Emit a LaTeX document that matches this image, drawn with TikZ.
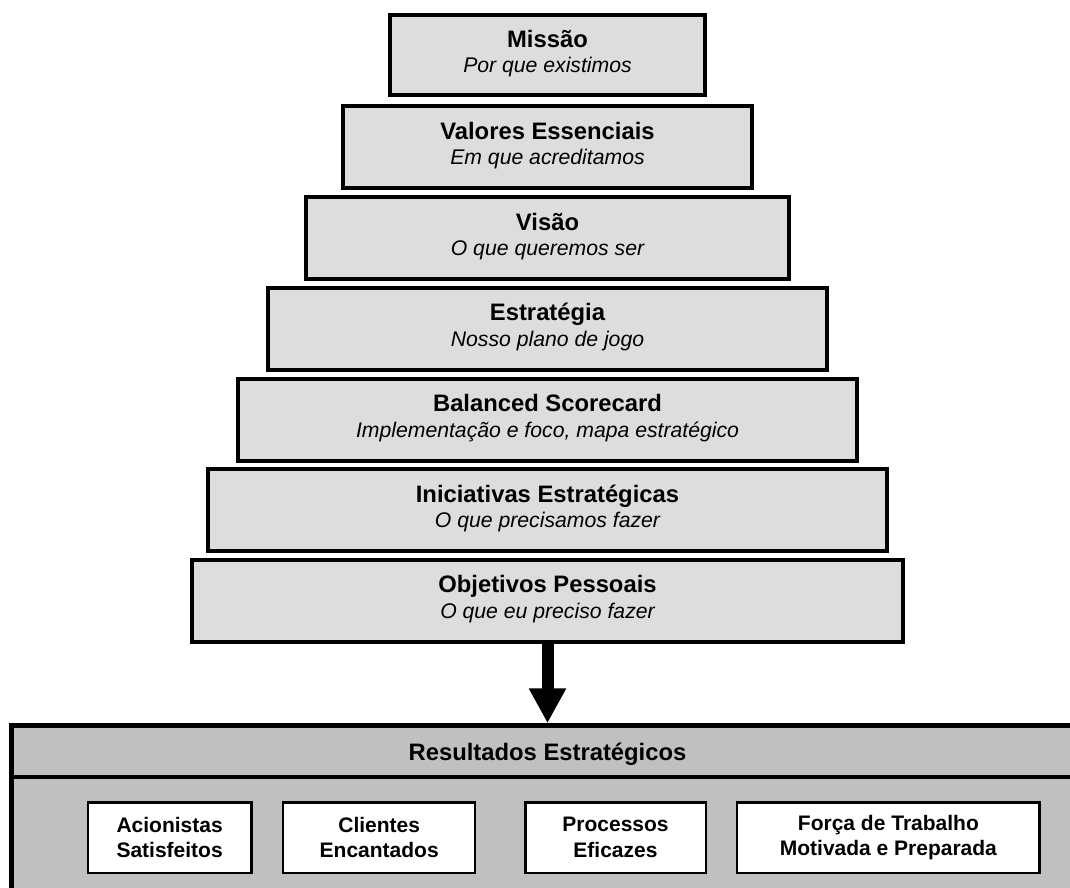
\documentclass[tikz,border=0pt]{standalone}
\usepackage{fontspec}
\setmainfont{Liberation Sans}
\usetikzlibrary{arrows.meta}
\definecolor{tierfill}{HTML}{DDDDDD}
\definecolor{panelfill}{HTML}{C0C0C0}
\begin{document}
\begin{tikzpicture}[x=1pt,y=-1pt,
  tier/.style={draw=black, line width=4pt, fill=tierfill, inner sep=0pt, minimum height=82pt},
  tiertitle/.style={anchor=base, inner sep=0pt, font=\fontsize{23.8}{28}\selectfont\bfseries},
  tiersub/.style={anchor=base, inner sep=0pt, font=\fontsize{21.2}{26}\selectfont\itshape},
  panel/.style={draw=black, line width=4.5pt, fill=panelfill, inner sep=0pt},
  paneltitle/.style={anchor=base, inner sep=0pt, font=\fontsize{23.8}{28}\selectfont\bfseries},
  outcome/.style={draw=black, line width=2.5pt, fill=white, inner sep=0pt,
    minimum height=70.5pt, align=center, font=\fontsize{21}{25.7}\selectfont\bfseries},
  divider/.style={draw=black, line width=4pt},
  bigarrow/.style={draw=black, line width=12pt, -{Triangle[length=35pt,width=35pt]}},
]
\useasboundingbox (0,0) rectangle (1070,888);
\clip (0,0) rectangle (1070,888);

% pyramid of tiers
\node[tier, minimum width=315.4pt, minimum height=80.2pt] (mis) at (547.5,55.4) {};
\node[tiertitle] (misT) at ([yshift=8pt]mis.center) {Missão};
\node[tiersub] (misS) at ([yshift=-17.5pt]mis.center) {Por que existimos};

\node[tier, minimum width=408.3pt, minimum height=82.5pt] (val) at (547.5,147.2) {};
\node[tiertitle] (valT) at ([yshift=8pt]val.center) {Valores Essenciais};
\node[tiersub] (valS) at ([yshift=-17.5pt]val.center) {Em que acreditamos};

\node[tier, minimum width=483.4pt] (vis) at (547.5,238) {};
\node[tiertitle] (visT) at ([yshift=8pt]vis.center) {Visão};
\node[tiersub] (visS) at ([yshift=-17.5pt]vis.center) {O que queremos ser};

\node[tier, minimum width=559.2pt] (est) at (547.5,328.7) {};
\node[tiertitle] (estT) at ([yshift=8pt]est.center) {Estratégia};
\node[tiersub] (estS) at ([yshift=-17.5pt]est.center) {Nosso plano de jogo};

\node[tier, minimum width=619.2pt] (bsc) at (547.5,419.7) {};
\node[tiertitle] (bscT) at ([yshift=8pt]bsc.center) {Balanced Scorecard};
\node[tiersub] (bscS) at ([yshift=-17.5pt]bsc.center) {Implementação e foco, mapa estratégico};

\node[tier, minimum width=679.9pt, minimum height=81.7pt] (ini) at (547.5,510.2) {};
\node[tiertitle] (iniT) at ([yshift=8pt]ini.center) {Iniciativas Estratégicas};
\node[tiersub] (iniS) at ([yshift=-17.5pt]ini.center) {O que precisamos fazer};

\node[tier, minimum width=710.5pt, minimum height=82.5pt] (obj) at (547.5,600.8) {};
\node[tiertitle] (objT) at ([yshift=8pt]obj.center) {Objetivos Pessoais};
\node[tiersub] (objS) at ([yshift=-17.5pt]obj.center) {O que eu preciso fazer};

% results panel, running past the right and bottom edges
\node[panel, minimum width=1088.5pt, minimum height=194.5pt] (res) at (555.75,822.75) {};
\coordinate (divL) at (11.5,777);
\coordinate (divR) at (1100,777);
\draw[divider] (divL) -- (divR);
\node[paneltitle] (resT) at (547.5,760) {Resultados Estratégicos};

\node[outcome, minimum width=163.5pt] (aci) at (169.6,837.5) {Acionistas\\Satisfeitos};
\node[outcome, minimum width=192pt] (cli) at (379.2,837.5) {Clientes\\Encantados};
\node[outcome, minimum width=180.5pt] (pro) at (615.5,837.5) {Processos\\Eficazes};
\node[outcome, minimum width=302.5pt] (for) at (888.4,837.5) {Força de Trabalho\\Motivada e Preparada};

% flow from personal goals to results
\draw[bigarrow] (obj.south) -- (obj.south |- res.north);
\end{tikzpicture}
\end{document}
